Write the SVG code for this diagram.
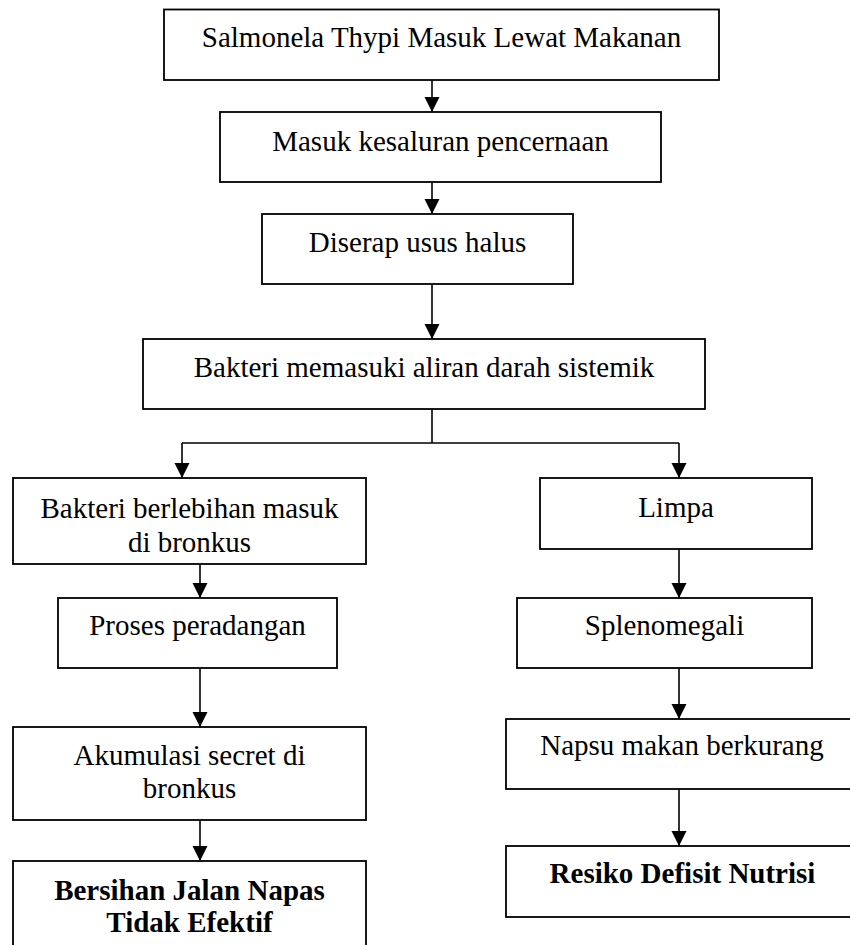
<svg xmlns="http://www.w3.org/2000/svg" width="850" height="945" viewBox="0 0 850 945">
<style>
.box{fill:#fff;stroke:#000;stroke-width:1.8}
.t{font-family:"Liberation Serif","Times New Roman",serif;font-size:29px;fill:#000;text-anchor:middle}
.b{font-weight:bold}
.c{fill:none;stroke:#000;stroke-width:1.6}
</style>
<defs>
<marker id="ah" markerUnits="userSpaceOnUse" markerWidth="16" markerHeight="16" refX="15" refY="7.5" orient="auto">
<path d="M0,0 L15,7.5 L0,15 z" fill="#000"/>
</marker>
</defs>
<rect width="850" height="945" fill="#fff"/>
<g id="connectors">
<path class="c" d="M432,80 V112" marker-end="url(#ah)"/>
<path class="c" d="M432,182 V214" marker-end="url(#ah)"/>
<path class="c" d="M432,284 V339" marker-end="url(#ah)"/>
<path class="c" d="M432,409 V443"/>
<path class="c" d="M182,443 H679"/>
<path class="c" d="M182,443 V478" marker-end="url(#ah)"/>
<path class="c" d="M679,443 V478" marker-end="url(#ah)"/>
<path class="c" d="M200,564 V598" marker-end="url(#ah)"/>
<path class="c" d="M200,668 V727" marker-end="url(#ah)"/>
<path class="c" d="M200,820 V861" marker-end="url(#ah)"/>
<path class="c" d="M679,549 V598" marker-end="url(#ah)"/>
<path class="c" d="M679,668 V719" marker-end="url(#ah)"/>
<path class="c" d="M679,789 V846" marker-end="url(#ah)"/>
</g>
<g id="n1"><rect class="box" x="164" y="9.5" width="555" height="70.5"/><text class="t" x="441.5" y="47">Salmonela Thypi Masuk Lewat Makanan</text></g>
<g id="n2"><rect class="box" x="220" y="112" width="441" height="70"/><text class="t" x="440.5" y="151">Masuk kesaluran pencernaan</text></g>
<g id="n3"><rect class="box" x="262" y="214" width="311" height="70"/><text class="t" x="417.5" y="252">Diserap usus halus</text></g>
<g id="n4"><rect class="box" x="143" y="339" width="562" height="70"/><text class="t" x="424" y="377">Bakteri memasuki aliran darah sistemik</text></g>
<g id="n5"><rect class="box" x="13" y="478" width="353" height="86"/><text class="t" x="189.5" y="518">Bakteri berlebihan masuk</text><text class="t" x="189.5" y="552">di bronkus</text></g>
<g id="n6"><rect class="box" x="540" y="478" width="272" height="71"/><text class="t" x="676" y="517">Limpa</text></g>
<g id="n7"><rect class="box" x="58" y="598" width="279" height="70"/><text class="t" x="197.5" y="635">Proses peradangan</text></g>
<g id="n8"><rect class="box" x="13" y="727" width="353" height="93"/><text class="t" x="189.5" y="765">Akumulasi secret di</text><text class="t" x="189.5" y="798">bronkus</text></g>
<g id="n9"><rect class="box" x="13" y="861" width="353" height="95"/><text class="t b" x="189.5" y="900">Bersihan Jalan Napas</text><text class="t b" x="189.5" y="932">Tidak Efektif</text></g>
<g id="n10"><rect class="box" x="517" y="598" width="295" height="70"/><text class="t" x="664.5" y="635">Splenomegali</text></g>
<g id="n11"><rect class="box" x="506" y="719" width="350" height="70"/><text class="t" x="682" y="755">Napsu makan berkurang</text></g>
<g id="n12"><rect class="box" x="506" y="846" width="350" height="71"/><text class="t b" x="682.5" y="883">Resiko Defisit Nutrisi</text></g>
</svg>
